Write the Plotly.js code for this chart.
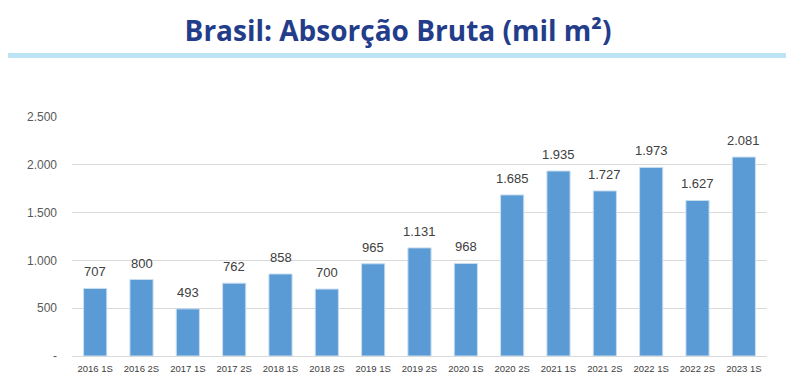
<!DOCTYPE html>
<html><head><meta charset="utf-8">
<script src="https://cdn.plot.ly/plotly-3.0.1.min.js"></script>
<style>html,body{margin:0;padding:0;background:#fff}#chart{width:796px;height:388px}</style>
</head><body><div id="chart"></div>
<script>
const categories = ["2016 1S","2016 2S","2017 1S","2017 2S","2018 1S","2018 2S","2019 1S","2019 2S","2020 1S","2020 2S","2021 1S","2021 2S","2022 1S","2022 2S","2023 1S"];
const values = [707,800,493,762,858,700,965,1131,968,1685,1935,1727,1973,1627,2081];
const yTickVals = [0,500,1000,1500,2000,2500];
const yTickText = ["-","500","1.000","1.500","2.000","2.500"];
const titleText = "Brasil: Absorção Bruta (mil m²)";

const fmt = v => v.toLocaleString('de-DE');

const trace = {
  type: 'bar', x: categories, y: values,
  marker: {color: '#5B9BD5', line: {color: '#C9DDF0', width: 1}},
  width: 0.5, hoverinfo: 'none'
};

const annotations = categories.map((c, i) => ({
  x: c, y: values[i], xref: 'x', yref: 'y', text: fmt(values[i]),
  showarrow: false, yanchor: 'bottom', yshift: 7,
  font: {family: 'Liberation Sans, Arial, sans-serif', size: 13, color: '#404040'}
}));

const layout = {
  width: 796, height: 388,
  margin: {l: 72, r: 29, t: 117, b: 32},
  paper_bgcolor: '#fff', plot_bgcolor: '#fff',
  separators: ',.',
  showlegend: false,
  title: {
    text: '<b>' + titleText + '</b>',
    x: 0.5, xref: 'container', xanchor: 'center', y: 1 - 31/388, yref: 'container', yanchor: 'middle',
    font: {family: 'Liberation Sans Narrow, Open Sans, sans-serif', size: 28, color: '#233D8B'}
  },
  xaxis: {
    type: 'category', showgrid: false, showline: false, zeroline: false, ticks: '',
    tickfont: {family: 'Liberation Sans, Arial, sans-serif', size: 9.5, color: '#404040'},
    ticklabelstandoff: 5, fixedrange: true
  },
  yaxis: {
    range: [0, 2500], tickvals: yTickVals, ticktext: yTickText,
    showgrid: true, gridcolor: '#D9D9D9', gridwidth: 1,
    zeroline: true, zerolinecolor: '#D9D9D9', zerolinewidth: 1,
    showline: false, ticks: '',
    tickfont: {family: 'Liberation Sans, Arial, sans-serif', size: 12, color: '#595959'},
    ticklabelstandoff: 14, fixedrange: true
  },
  shapes: [{
    type: 'rect', xref: 'paper', yref: 'paper',
    x0: (8-72)/695, x1: (786-72)/695, y0: (356-58)/239, y1: (356-53)/239,
    fillcolor: '#BDE4F4', line: {width: 0}, layer: 'above'
  }],
  annotations: annotations
};

Plotly.newPlot('chart', [trace], layout, {displayModeBar: false, staticPlot: true});
</script>
</body></html>
